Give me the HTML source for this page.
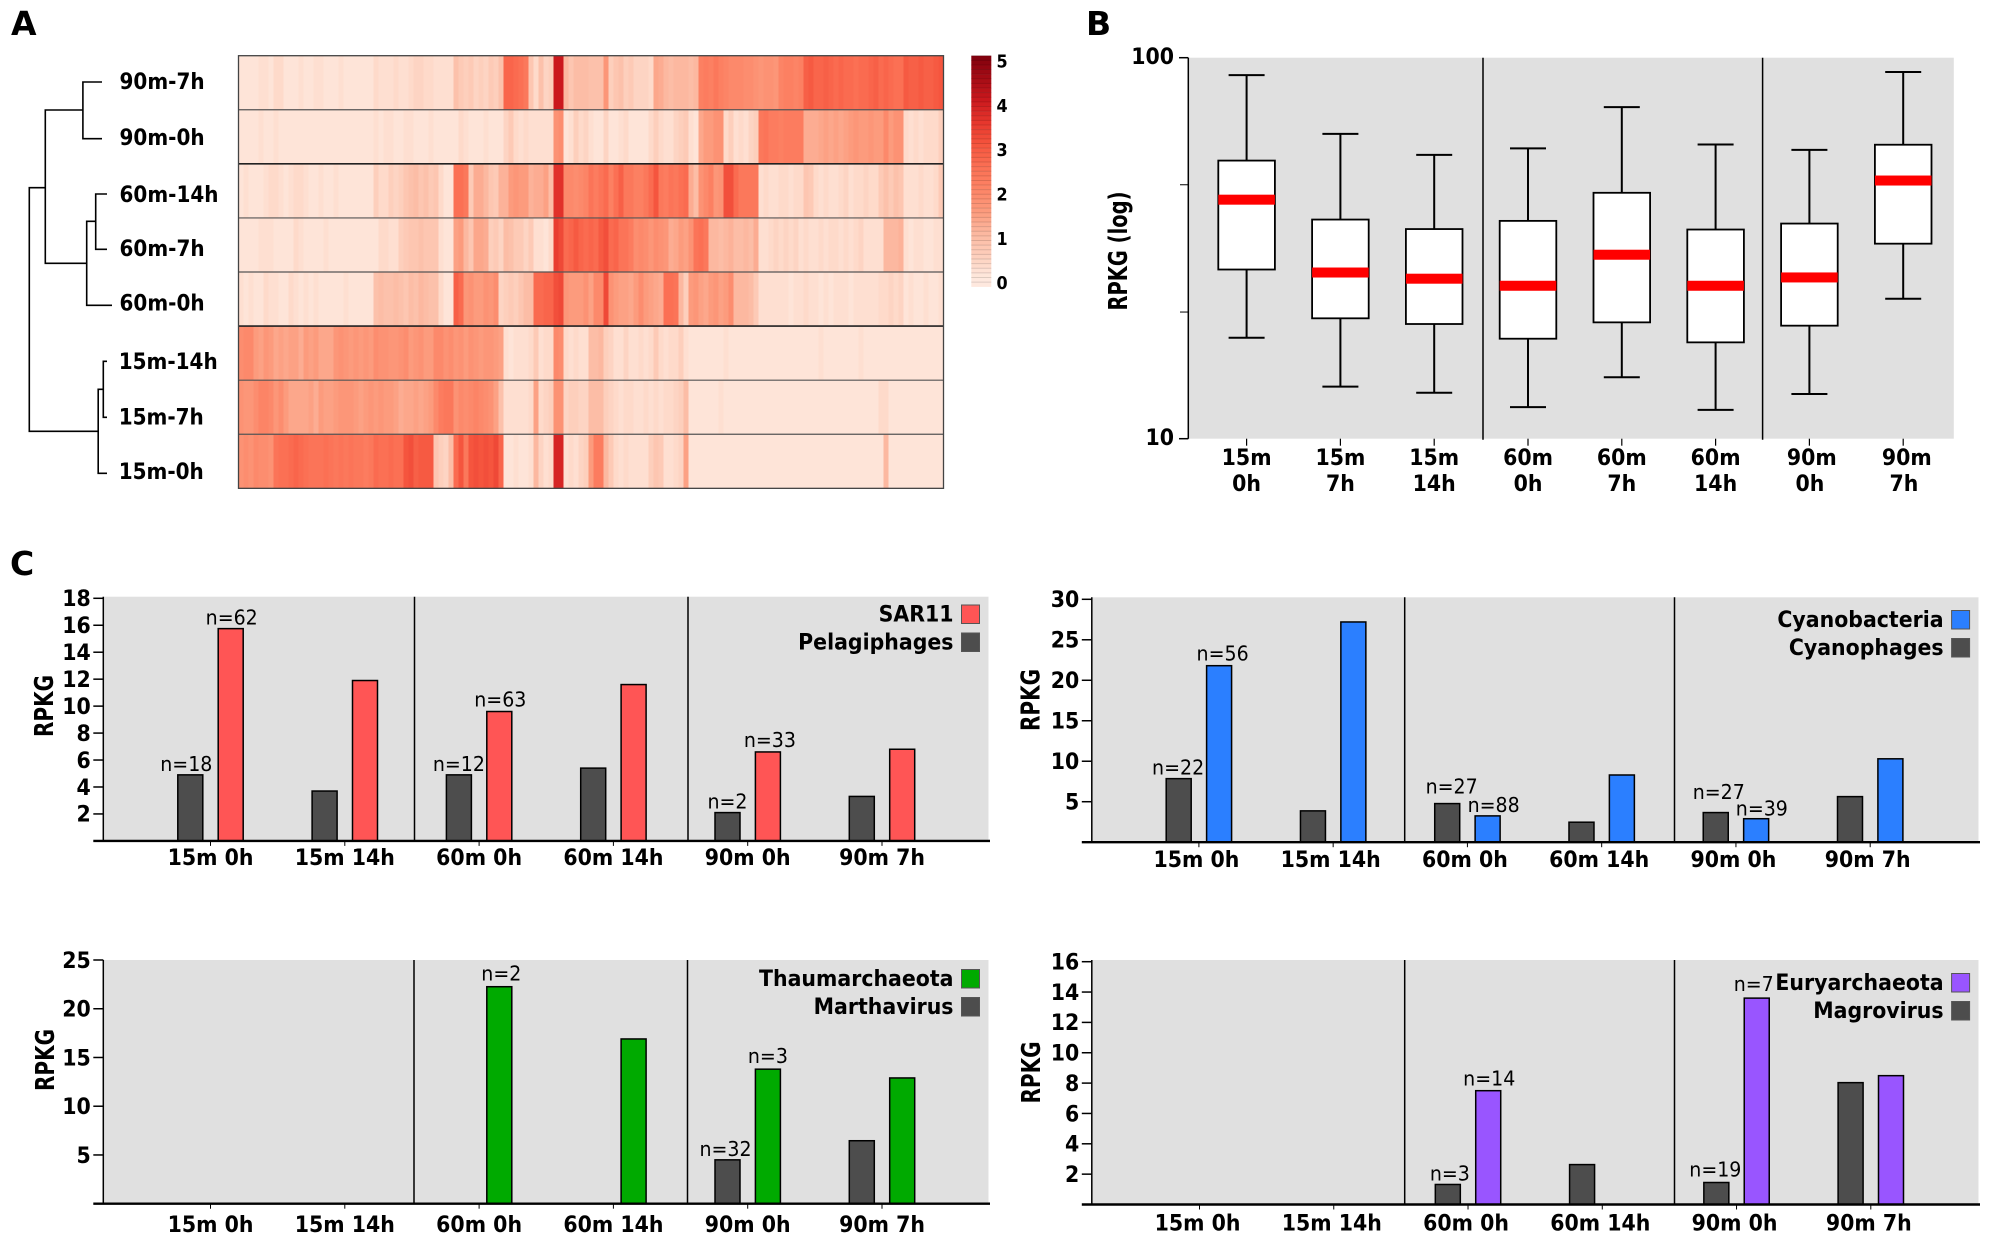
<!DOCTYPE html>
<html lang="en">
<head>
<meta charset="utf-8">
<title>Viral and host transcript abundance panels</title>
<style>
html,body{margin:0;padding:0;background:#fff}
svg{display:block}
text{font-family:"DejaVu Sans","Liberation Sans",sans-serif;fill:#000}
.b{font-weight:700;font-size:20.5px}
.rl{font-weight:700;font-size:20px}
.t{font-weight:700;font-size:20px}
.tb{font-weight:700;font-size:19.5px}
.panel{font-weight:700;font-size:33px}
.n{font-size:19px}
</style>
</head>
<body>
<svg id="figure" xmlns="http://www.w3.org/2000/svg" width="1993" height="1246" viewBox="0 0 1993 1246">
  <rect width="1993" height="1246" fill="#fff"/>
  <text class="panel" x="11" y="35">A</text>
  <text class="panel" x="1086" y="35">B</text>
  <text class="panel" x="10" y="575">C</text>
  <g fill="none" stroke="#000" stroke-width="1.6">
    <path d="M45.3 187.7H29.3V431.3H98.2"/>
    <path d="M82.9 110H45.3V263.3H86.7"/>
    <path d="M102 82H82.9V138.7H102"/>
    <path d="M95.7 221.3H86.7V305.3H112"/>
    <path d="M107 194H95.7V249.3H107"/>
    <path d="M103.3 389.3H98.2V473.3H107"/>
    <path d="M107 361.3H103.3V417.3H107"/>
  </g>
  <g id="heatmap"></g>
  <g id="colorbar"></g>
  <g id="boxplot"></g>
  <g id="bars"></g>
</svg>
<script>
// ---------- Panel A data: scaled abundance per sample row (one value per column) ----------
const heatmapRowNames = ['90m-7h','90m-0h','60m-14h','60m-7h','60m-0h','15m-14h','15m-7h','15m-0h'];
const colorbarTicks = [5,4,3,2,1,0];
const row90m7h = [.1,.1,.1,.1,.2,.2,.1,.3,.3,.1,.1,.1,.2,.1,.1,.2,.2,.1,.1,.1,.2,.1,.1,.1,.1,.1,.1,.3,.2,.2,.2,.3,.2,.2,.3,.4,.4,.3,.3,.2,.2,.2,.2,.8,.6,.5,.6,.4,.5,.4,.6,.5,.8,2.7,2.7,2.6,2.5,2.3,.7,.3,.8,.4,.5,4,4,1,.7,.9,.9,.9,.8,.8,.8,1.6,.5,.7,.8,.5,.6,.4,.4,.4,.3,1.3,1.2,1,.9,1,1,1,.9,1,2.1,2.2,2.1,2.3,2.1,2,1.9,1.9,1.9,1.8,1.8,1.7,1.6,1.7,1.7,1.6,2,2.1,2.1,2,2.1,2.8,2.9,2.7,2.7,2.8,2.7,2.6,2.7,2.6,2.6,2.5,2.6,2.6,2.7,2.8,2.6,2.7,2.6,2.5,2.5,2.9,2.8,2.8,2.9,2.8,2.8,2.9,3];
const row90m0h = [.1,.1,.1,.1,.2,.1,.1,.2,.1,.1,.1,.1,.1,.1,.1,.1,.1,.1,.1,.1,.1,.1,.1,.1,.1,.1,.1,.2,.1,.2,.2,.1,.1,.2,.2,.1,.1,.1,.2,.1,.1,.1,.1,.1,.3,.2,.1,.1,.1,.2,.1,.1,.1,.4,.6,.3,.2,.3,.2,.2,.2,.2,.2,1.7,1.8,.1,.2,.5,.3,.4,.2,.1,.1,.4,.1,.1,.2,.3,.1,.1,.1,.1,.3,.5,.3,.2,.2,.4,.5,.6,.2,.1,1.3,1.5,1.5,1.7,1.7,.3,.5,.2,.3,.2,.4,.5,2.3,2.4,2.2,2.2,2.1,2.2,2.2,2.2,2.2,1.2,1.2,1.2,1.3,1.4,1.3,1.4,1.3,1.4,1.5,1.6,1.5,1.5,1.6,1.5,1.5,1.9,1.5,1.7,1.7,.3,.2,.3,.2,.3,.3,.3,.5];
const row60m14h = [.1,.2,.1,.1,.1,.2,.3,.3,.2,.1,.2,.3,.3,.2,.1,.1,.2,.1,.1,.2,.1,.1,.1,.1,.1,.1,.1,.5,.3,.3,.5,.4,.5,.7,.8,.9,.7,.8,.6,.7,.3,.1,.1,2.5,2.5,2.3,.6,1.2,1.2,1,.7,.6,1.1,1.1,1.5,1.6,1.5,1.5,1.1,1.2,1.2,1.4,.9,3.6,3.6,1.9,1.9,1.8,1.9,2,2.4,2.2,2.4,2.6,2.1,2.5,2.8,2.3,2.3,2.1,2.1,2.3,2.6,3,2.3,2.2,2.4,2.3,2.5,2.6,1.2,.9,1.7,1.9,2.1,1.6,1.7,3.1,3.1,2.6,2.3,2.3,2.3,2.3,.2,.3,.2,.2,.3,.3,.2,.3,.3,.7,.6,.3,.2,.3,.2,.2,.3,.4,.2,.3,.3,.4,.3,.3,.6,.8,.6,.8,.7,.2,.2,.2,.3,.2,.2,.3,.6];
const row60m7h = [.1,.1,.1,.1,.2,.2,.2,.1,.1,.1,.1,.3,.2,.1,.1,.1,.1,.2,.1,.1,.1,.1,.1,.1,.1,.1,.1,.1,.3,.3,.2,.2,.5,.6,.7,.7,.8,.7,.7,.7,.2,.1,.1,1.4,1.5,1,.7,1.3,1.3,1.2,.5,.6,.4,.9,.8,.6,.6,.4,.6,.2,.2,.1,.3,3.4,3.2,2.6,2.7,2.9,2.7,2.6,2.7,2.6,2.9,3.1,2.6,2.7,2.4,2.4,2.2,1.8,1.9,1.8,1.6,1.8,1.7,1.6,1.2,1.3,1.5,1.4,1.7,2.4,2.5,2.3,1,1,.9,1,1.1,.9,.9,1,.9,1.2,.2,.2,.3,.4,.3,.4,.3,.4,.2,.3,.2,.2,.3,.2,.3,.3,.2,.3,.2,.3,.4,.2,.2,.2,.2,1,1,1,1.1,.2,.1,.2,.2,.1,.1,.2,.2];
const row60m0h = [.2,.1,.2,.1,.1,.3,.2,.2,.1,.1,.3,.2,.1,.2,.1,.2,.1,.1,.1,.1,.1,.2,.1,.1,.1,.1,.1,.8,.9,.8,.8,.9,.8,.7,.9,.8,1,.9,.8,.8,.3,.1,.1,2.8,2.6,1.6,1.7,1.5,1.5,1.7,1.6,1.8,.4,.5,.6,.5,.7,.9,.9,2.6,2.6,2.7,2.7,3.1,3.2,1.6,1.5,1.5,1.5,1.7,1.4,1.9,1.9,3.2,1.7,1.5,1.4,1.4,1.3,1.5,1.8,1.5,1.4,1.3,1.2,2.5,2.5,2.4,1,.5,1.5,1.6,1.4,1.3,1.5,1.6,1.4,1.5,1.8,1,1,1,.9,.6,.2,.2,.2,.2,.2,.2,.1,.2,.2,.3,.2,.2,.1,.2,.1,.2,.2,.2,.1,.2,.2,.2,.2,.2,.3,.3,.4,.3,.4,.1,.2,.1,.1,.2,.1,.1,.2];
const row15m14h = [1.8,1.9,1.9,1.5,1.4,1.6,1.5,1.3,1.4,1.3,1.4,1.4,1.2,1.5,1.4,1.5,1.3,1.3,1.3,1.6,1.7,1.6,1.5,1.6,1.5,1.6,1.5,1.8,1.7,1.7,1.6,1.6,1.7,1.8,1.5,1.6,1.7,1.5,1.5,1.9,1.9,1.7,1.8,1.6,1.7,1.5,1.7,1.6,1.5,1.6,1.6,1.5,1.4,.2,.1,.2,.2,.2,.3,.6,.2,.3,.3,1.9,1.8,.3,.2,.3,.2,.2,.9,.9,1,.5,.4,.2,.2,.4,.2,.2,.3,.2,.3,.6,.3,.2,.3,.3,.5,.2,.1,.1,.1,.1,.1,.1,.1,.2,.1,.1,.1,.1,.1,.1,.1,.1,.1,.1,.1,.1,.1,.1,.1,.1,.1,.1,.2,.1,.1,.1,.1,.1,.1,.1,.2,.1,.1,.1,.1,.1,.1,.1,.1,.1,.1,.1,.1,.1,.1,.1,.1];
const row15m7h = [1.7,1.6,1.6,1.8,2,2,1.9,1.6,1.8,1.5,1.3,1.3,1.3,1.3,1.4,1.2,1.5,1.4,1.4,1.5,1.6,1.6,1.6,1.5,1.4,1.5,1.6,1.5,1.6,1.5,1.5,1.4,1.2,1.3,1.3,1.4,1.3,1.4,1.5,1.9,2.2,2.3,2.3,1.7,1.9,1.8,1.9,2,1.9,1.8,1.7,1.4,.8,.2,.2,.2,.2,.2,.3,1.4,.3,.4,.5,1.7,1.7,.4,.5,.5,.4,.4,.9,.9,.9,.5,.4,.3,.2,.3,.3,.2,.2,.3,.2,.3,.2,.3,.3,.4,.5,.9,.1,.1,.1,.1,.1,.1,.2,.1,.1,.1,.1,.1,.1,.1,.1,.1,.1,.1,.1,.1,.1,.1,.1,.1,.1,.1,.1,.1,.1,.1,.1,.1,.1,.1,.1,.1,.1,.1,.3,.3,.1,.1,.1,.1,.1,.1,.1,.1,.1,.1,.1];
const row15m0h = [1.7,1.8,1.7,1.9,1.8,1.8,1.7,2.4,2.5,2.5,2.6,2.7,2.6,2.5,2.4,2.4,2.4,2.5,2.4,2.3,2.4,2.3,2.4,2.3,2.3,2.2,2.3,2.6,2.5,2.5,2.6,2.5,2.5,3,3.1,2.8,2.9,2.9,2.9,.7,.5,.4,.9,2.6,3,2.3,3,3.1,3,3.1,3,3.2,2.7,.1,.1,.2,.1,.1,.2,1,.4,.2,.3,3.8,3.8,.2,.3,.2,.4,.5,1.5,2.2,2.2,1,.6,.3,.2,.3,.2,.2,.2,.2,.5,.7,.6,.2,.2,.3,.4,1.4,.1,.1,.1,.1,.1,.1,.1,.1,.1,.1,.1,.1,.1,.1,.1,.1,.1,.1,.1,.1,.1,.1,.1,.1,.1,.1,.1,.1,.1,.1,.1,.1,.1,.1,.1,.1,.1,.1,.1,1,.1,.1,.1,.1,.1,.1,.1,.1,.1,.1,.1];

// ---------- Panel B data ----------
const boxCategories = [['15m','0h'],['15m','7h'],['15m','14h'],['60m','0h'],['60m','7h'],['60m','14h'],['90m','0h'],['90m','7h']];
const boxWhiskerHigh = [90.0,63.1,55.6,57.8,74.2,59.2,57.3,91.7];
const boxUpperQuartile = [53.7,37.6,35.5,37.3,44.2,35.4,36.7,59.1];
const boxMedian = [42.4,27.3,26.3,25.2,30.4,25.2,26.5,47.6];
const boxLowerQuartile = [27.8,20.7,20.0,18.3,20.2,17.9,19.8,32.5];
const boxWhiskerLow = [18.4,13.7,13.2,12.1,14.5,11.9,13.1,23.3];
const boxMajorTicks = [100,10];
const boxMinorTicks = [46.4,21.5];

// ---------- Panel C data ----------
const barCategories = ['15m 0h','15m 14h','60m 0h','60m 14h','90m 0h','90m 7h'];
const sar11Values = [15.75,11.9,9.6,11.6,6.6,6.8];
const pelagiphageValues = [4.9,3.7,4.9,5.4,2.1,3.3];
const sar11Counts = ['n=62','','n=63','','n=33',''];
const pelagiphageCounts = ['n=18','','n=12','','n=2',''];
const sarTicks = [2,4,6,8,10,12,14,16,18];
const cyanobacteriaValues = [21.8,27.2,3.25,8.3,2.9,10.3];
const cyanophageValues = [7.85,3.87,4.77,2.47,3.66,5.63];
const cyanobacteriaCounts = ['n=56','','n=88','','n=39',''];
const cyanophageCounts = ['n=22','','n=27','','n=27',''];
const cyanoTicks = [5,10,15,20,25,30];
const thaumarchaeotaValues = [null,null,22.26,16.9,13.8,12.9];
const marthavirusValues = [null,null,null,null,4.5,6.46];
const thaumarchaeotaCounts = ['','','n=2','','n=3',''];
const marthavirusCounts = ['','','','','n=32',''];
const thaumTicks = [5,10,15,20,25];
const euryarchaeotaValues = [null,null,7.5,null,13.6,8.49];
const magrovirusValues = [null,null,1.32,2.63,1.45,8.03];
const euryarchaeotaCounts = ['','','n=14','','n=7',''];
const magrovirusCounts = ['','','n=3','','n=19',''];
const euryTicks = [2,4,6,8,10,12,14,16];

// ---------- helpers ----------
const NS = 'http://www.w3.org/2000/svg';
function mk(tag, attrs, parent, content) {
  const node = document.createElementNS(NS, tag);
  for (const key in attrs) node.setAttribute(key, attrs[key]);
  if (content !== undefined) node.textContent = content;
  parent.appendChild(node);
  return node;
}
function slug(s) { return String(s).toLowerCase().replace(/[^a-z0-9]+/g, '-'); }

// ---------- Panel A ----------
const rampStops = [[0,[254,232,222]],[.1,[254,228,216]],[.5,[253,207,188]],[1,[252,184,160]],[1.5,[252,155,125]],[2,[252,132,102]],[2.5,[251,112,84]],[3,[245,85,62]],[3.5,[230,55,45]],[4,[203,24,29]],[5,[127,0,13]]];
function heatColor(v) {
  let i = 0;
  while (i < rampStops.length - 2 && v > rampStops[i + 1][0]) i++;
  const a = rampStops[i], b = rampStops[i + 1];
  const t = Math.max(0, Math.min(1, (v - a[0]) / (b[0] - a[0])));
  const c = a[1].map((x, k) => Math.round(x + (b[1][k] - x) * t));
  return 'rgb(' + c.join(',') + ')';
}
(function drawHeatmap() {
  const root = document.getElementById('heatmap');
  const rows = [row90m7h, row90m0h, row60m14h, row60m7h, row60m0h, row15m14h, row15m7h, row15m0h];
  const left = 238.5, top = 55.7, cellW = 5, rowH = 54.08;
  const labelCenters = [81, 137, 194, 248, 302.7, 361, 416.7, 471];
  rows.forEach((values, r) => {
    const rowGroup = mk('g', {}, root);
    
    
    values.forEach((v, c) => {
      const cell = mk('rect', {x: left + c * cellW, y: top + r * rowH, width: cellW + .3, height: rowH, fill: heatColor(v)}, rowGroup);
      
      
    });
    const label = mk('text', {x: r < 5 ? 119.5 : 118.7, y: labelCenters[r] + 7.8, class: 'rl'}, root, heatmapRowNames[r]);
    
    
  });
  const width = rows[0].length * cellW;
  for (let r = 1; r < rows.length; r++) {
    const strong = r === 2 || r === 5;
    const divider = mk('line', {x1: left, x2: left + width, y1: top + r * rowH, y2: top + r * rowH, stroke: strong ? '#222' : '#555', 'stroke-width': strong ? 1.6 : 1.2}, root);
    
    
  }
  const frame = mk('rect', {x: left, y: top, width: width, height: rows.length * rowH, fill: 'none', stroke: '#444', 'stroke-width': 1.3}, root);
  
  
  const cbRoot = document.getElementById('colorbar');
  const cbTop = 55.7, cbBottom = 286.7, cbLeft = 971.3, cbW = 20, bands = 50;
  const bandH = (cbBottom - cbTop) / bands;
  for (let i = 0; i < bands; i++) {
    const level = 5 - (i + .5) * (5.2 / bands);
    const band = mk('rect', {x: cbLeft, y: cbTop + i * bandH, width: cbW, height: bandH + .2, fill: heatColor(level)}, cbRoot);
    
    
    const sep = mk('line', {x1: cbLeft, x2: cbLeft + cbW, y1: cbTop + i * bandH, y2: cbTop + i * bandH, stroke: '#000', 'stroke-opacity': .13, 'stroke-width': 1}, cbRoot);
    
    
  }
  colorbarTicks.forEach(t => {
    const tick = mk('text', {x: 1002, y: 283.3 - t * 44.3 + 5.8, 'text-anchor': 'middle', style: 'font-weight:700;font-size:16px'}, cbRoot, t);
    
    
  });
})();

// ---------- Panel B ----------
(function drawBoxplot() {
  const root = document.getElementById('boxplot');
  const plot = {left: 1188.3, right: 1953.8, top: 57.7, bottom: 438.7};
  const y = v => plot.bottom - (Math.log10(v) - 1) * (plot.bottom - plot.top);
  const x = i => 1246.6 + i * 93.8;
  const bg = mk('rect', {x: plot.left, y: plot.top, width: plot.right - plot.left, height: plot.bottom - plot.top, fill: '#e0e0e0'}, root);
  
  
  const yAxis = mk('line', {x1: plot.left, x2: plot.left, y1: plot.top, y2: plot.bottom, stroke: '#000', 'stroke-width': 1.5}, root);
  
  
  [1483, 1762.6].forEach(sx => {
    const sep = mk('line', {x1: sx, x2: sx, y1: plot.top, y2: plot.bottom + 1, stroke: '#000', 'stroke-width': 1.5}, root);
    
    
  });
  boxMajorTicks.forEach(t => {
    const tick = mk('line', {x1: 1179, x2: plot.left, y1: y(t), y2: y(t), stroke: '#000', 'stroke-width': 1.5}, root);
    
    
    const label = mk('text', {x: 1174, y: y(t) + 6.5, 'text-anchor': 'end', class: 'b'}, root, t);
    
    
  });
  boxMinorTicks.forEach(t => {
    const tick = mk('line', {x1: 1180, x2: plot.left, y1: y(t), y2: y(t), stroke: '#000', 'stroke-width': 1}, root);
    
    
  });
  const title = mk('text', {x: 0, y: 0, class: 'tb', 'text-anchor': 'middle', transform: 'translate(1127 251) rotate(-90)'}, root, 'RPKG (log)');
  
  
  boxCategories.forEach((cat, i) => {
    const cx = x(i), key = slug(cat.join('-'));
    const g = mk('g', {}, root);
    
    
    const stem = mk('path', {d: 'M' + (cx - 18) + ' ' + y(boxWhiskerHigh[i]) + 'H' + (cx + 18) + 'M' + cx + ' ' + y(boxWhiskerHigh[i]) + 'V' + y(boxWhiskerLow[i]) + 'M' + (cx - 18) + ' ' + y(boxWhiskerLow[i]) + 'H' + (cx + 18), fill: 'none', stroke: '#000', 'stroke-width': 2}, g);
    
    
    const box = mk('rect', {x: cx - 28.3, y: y(boxUpperQuartile[i]), width: 56.6, height: y(boxLowerQuartile[i]) - y(boxUpperQuartile[i]), fill: '#fff', stroke: '#000', 'stroke-width': 1.8}, g);
    
    
    const med = mk('rect', {x: cx - 28.3, y: y(boxMedian[i]) - 5, width: 56.6, height: 10, fill: '#ff0000'}, g);
    
    
    const tick = mk('line', {x1: cx, x2: cx, y1: plot.bottom, y2: plot.bottom + 7, stroke: '#000', 'stroke-width': 1.2}, g);
    
    
    const shift = i === 6 ? 2.4 : i === 7 ? 3.6 : 0;
    const l1 = mk('text', {x: cx + shift, y: 464.8, 'text-anchor': 'middle', class: 'b'}, g, cat[0]);
    
    
    const l2 = mk('text', {x: cx + shift * .2, y: 490.8, 'text-anchor': 'middle', class: 'b'}, g, cat[1]);
    
    
  });
})();

// ---------- Panel C ----------
function drawBarChart(cfg) {
  const root = mk('g', {}, document.getElementById('bars'));
  
  
  const y = v => cfg.base - v * (cfg.base - cfg.topTickY) / cfg.topTick;
  const x = i => cfg.firstX + i * cfg.step;
  const bg = mk('rect', {x: cfg.left, y: cfg.top, width: cfg.right - cfg.left, height: cfg.base - cfg.top, fill: '#e0e0e0'}, root);
  
  
  cfg.seps.forEach(sx => {
    const sep = mk('line', {x1: sx, x2: sx, y1: cfg.top, y2: cfg.base, stroke: '#000', 'stroke-width': 1.5}, root);
    
    
  });
  const series = [
    {values: cfg.phage, counts: cfg.phageCounts, fill: '#4d4d4d', name: cfg.virus, off: -20.2, nudges: cfg.phageNudges},
    {values: cfg.hostValues, counts: cfg.hostCounts, fill: cfg.color, name: cfg.host, off: 20.2, nudges: cfg.hostNudges}
  ];
  series.forEach(s => {
    s.values.forEach((v, i) => {
      if (v === null) return;
      const cx = x(i) + s.off;
      const bar = mk('rect', {x: cx - 12.5, y: y(v), width: 25, height: cfg.base - y(v), fill: s.fill, stroke: '#000', 'stroke-width': 1.5}, root);
      
      
      if (s.counts[i]) {
        const nudge = s.nudges[i] || [0, 0];
        const label = mk('text', {x: cx + nudge[0], y: y(v) - 4 + nudge[1], 'text-anchor': 'middle', class: 'n'}, root, s.counts[i]);
        
        
      }
    });
  });
  const yAxis = mk('line', {x1: cfg.left, x2: cfg.left, y1: cfg.top, y2: cfg.base, stroke: '#000', 'stroke-width': 1.5}, root);
  
  
  const xAxis = mk('line', {x1: cfg.left - 10, x2: cfg.right + 1.5, y1: cfg.base, y2: cfg.base, stroke: '#000', 'stroke-width': 2.4}, root);
  
  
  cfg.ticks.forEach(t => {
    const tick = mk('line', {x1: cfg.left - 10, x2: cfg.left, y1: y(t), y2: y(t), stroke: '#000', 'stroke-width': 1.5}, root);
    
    
    const label = mk('text', {x: cfg.left - 12.5, y: y(t) + 7.8, 'text-anchor': 'end', class: 'b'}, root, t);
    
    
  });
  barCategories.forEach((c, i) => {
    const tick = mk('line', {x1: x(i), x2: x(i), y1: cfg.base, y2: cfg.base + 5, stroke: '#000', 'stroke-width': 1}, root);
    
    
    const label = mk('text', {x: x(i) + cfg.labelDx, y: cfg.xLabelY + 7.8, 'text-anchor': 'middle', class: 'b'}, root, c);
    
    
  });
  const title = mk('text', {x: 0, y: 0, class: 't', 'text-anchor': 'middle', transform: 'translate(' + (cfg.titleX + 9.5) + ' ' + cfg.titleY + ') rotate(-90)'}, root, 'RPKG');
  
  
  [[cfg.host, cfg.color, cfg.legendY[0]], [cfg.virus, '#4d4d4d', cfg.legendY[1]]].forEach(entry => {
    const item = mk('g', {}, root);
    
    
    const text = mk('text', {x: cfg.legendX, y: entry[2] + 16.3, 'text-anchor': 'end', class: 'b'}, item, entry[0]);
    
    
    const swatch = mk('rect', {x: cfg.legendX + 8, y: entry[2], width: 18, height: 18.5, fill: entry[1], stroke: '#555', 'stroke-width': 1}, item);
    
    
  });
}
drawBarChart({host: 'SAR11', virus: 'Pelagiphages', color: '#ff5555', hostValues: sar11Values, phage: pelagiphageValues, hostCounts: sar11Counts, phageCounts: pelagiphageCounts, ticks: sarTicks, left: 103.3, right: 988.5, top: 596.7, base: 840.9, topTick: 18, topTickY: 598.3, firstX: 210.5, step: 134.3, seps: [414.5, 688], xLabelY: 857, labelDx: 0, titleX: 43.4, titleY: 706, legendX: 953.5, legendY: [605, 633], hostNudges: [[1, 0], 0, [1, -1], 0, [2, -1], 0], phageNudges: [[-4, 0], 0, [0, 0], 0, [0, 0], 0]});
drawBarChart({host: 'Cyanobacteria', virus: 'Cyanophages', color: '#2b7fff', hostValues: cyanobacteriaValues, phage: cyanophageValues, hostCounts: cyanobacteriaCounts, phageCounts: cyanophageCounts, ticks: cyanoTicks, left: 1091.8, right: 1978.5, top: 597.3, base: 842.2, topTick: 30, topTickY: 599.3, firstX: 1198.9, step: 134.26, seps: [1404.7, 1674.5], xLabelY: 859.3, labelDx: -2.5, titleX: 1029.8, titleY: 700, legendX: 1943.6, legendY: [610.5, 638.5], hostNudges: [[3.5, -1], 0, [6, 0], 0, [5.7, 1], 0], phageNudges: [[-.6, 0], 0, [4.4, -6], 0, [3, -9.7], 0]});
drawBarChart({host: 'Thaumarchaeota', virus: 'Marthavirus', color: '#00aa00', hostValues: thaumarchaeotaValues, phage: marthavirusValues, hostCounts: thaumarchaeotaCounts, phageCounts: marthavirusCounts, ticks: thaumTicks, left: 103.3, right: 988.5, top: 960, base: 1203.7, topTick: 25, topTickY: 960, firstX: 210.5, step: 134.3, seps: [414, 687.5], xLabelY: 1224.3, labelDx: 0, titleX: 44.6, titleY: 1060, legendX: 953.5, legendY: [969.5, 997.5], hostNudges: [0, 0, [2, -2], 0, [0, -2], 0], phageNudges: [0, 0, 0, 0, [-2, 0], 0]});
drawBarChart({host: 'Euryarchaeota', virus: 'Magrovirus', color: '#9955ff', hostValues: euryarchaeotaValues, phage: magrovirusValues, hostCounts: euryarchaeotaCounts, phageCounts: magrovirusCounts, ticks: euryTicks, left: 1091.8, right: 1978.5, top: 960, base: 1204.5, topTick: 16, topTickY: 961.7, firstX: 1199.5, step: 134.26, seps: [1404.7, 1674.5], xLabelY: 1222.7, labelDx: -2, titleX: 1030.4, titleY: 1072.5, legendX: 1943.6, legendY: [973.5, 1001.5], hostNudges: [0, 0, [1, -1], 0, [-3, -3], 0], phageNudges: [0, 0, [2, 0], 0, [-1, -2], 0]});

// ---------- Glyph stretch: reference type is taller than the font's natural proportions ----------
document.querySelectorAll('#heatmap text, #colorbar text, #boxplot text, #bars text').forEach(t => {
  const cls = t.getAttribute('class') || '';
  const sy = cls === 't' || cls === 'tb' ? 1.3 : cls === 'rl' ? 1.1 : cls === 'n' ? 1.07 : 1.09;
  const existing = t.getAttribute('transform');
  if (existing) {
    t.setAttribute('transform', existing + ' scale(1,' + sy + ')');
  } else {
    t.setAttribute('transform', 'translate(' + t.getAttribute('x') + ' ' + t.getAttribute('y') + ') scale(1,' + sy + ')');
    t.setAttribute('x', 0);
    t.setAttribute('y', 0);
  }
});
</script>
</body>
</html>
